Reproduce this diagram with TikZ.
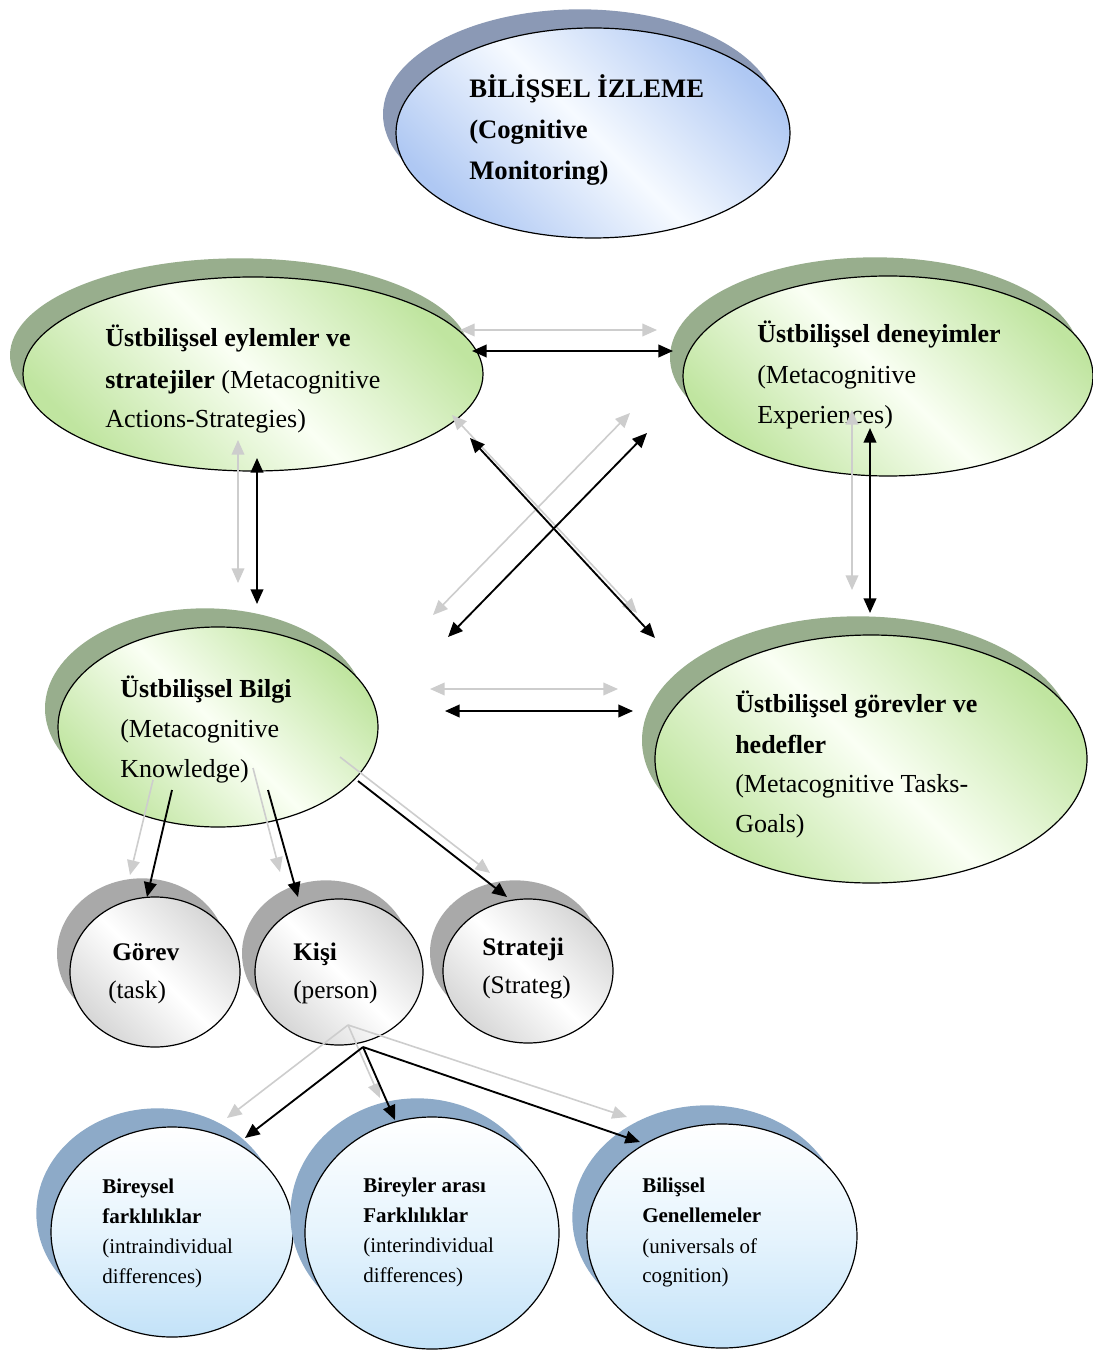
\documentclass[tikz,border=0pt]{standalone}
\usepackage{fontspec}
\setmainfont{Liberation Serif}
\usetikzlibrary{shapes.geometric,shadows,arrows.meta}

\definecolor{grnEdge}{HTML}{C0E5A0}
\definecolor{grnMid}{HTML}{FAFFF4}
\definecolor{grnShadow}{HTML}{98AE8D}
\definecolor{bluEdge}{HTML}{AFC8F3}
\definecolor{bluMid}{HTML}{F6FAFF}
\definecolor{bluShadow}{HTML}{8B99B5}
\definecolor{gryEdge}{HTML}{D6D6D6}
\definecolor{gryShadow}{HTML}{A9A9A9}
\definecolor{skyBottom}{HTML}{C3E2F8}
\definecolor{skyMid}{HTML}{E6F4FD}
\definecolor{skyShadow}{HTML}{8DAAC8}
\definecolor{ghost}{HTML}{CDCDCD}

\tikzset{
  % one unit = one pixel of the 1092 x 1351 canvas, y pointing down
  x=0.75pt, y=-0.75pt,
  oval/.style={ellipse, draw=black, line width=0.9pt, inner sep=0pt},
  radii/.style 2 args={minimum width=#1*1.5pt, minimum height=#2*1.5pt},
  monitoroval/.style={oval, left color=bluEdge, right color=bluEdge, middle color=bluMid,
    shading angle=135,
    drop shadow={shadow xshift=-9.75pt, shadow yshift=14pt, fill=bluShadow, opacity=1}},
  greenoval/.style={oval, left color=grnEdge, right color=grnEdge, middle color=grnMid,
    shading angle=135,
    drop shadow={shadow xshift=-9.75pt, shadow yshift=14pt, fill=grnShadow, opacity=1}},
  greyoval/.style={oval, left color=gryEdge, right color=gryEdge, middle color=white,
    shading angle=135,
    drop shadow={shadow xshift=-9.75pt, shadow yshift=14pt, fill=gryShadow, opacity=1}},
  skyoval/.style={oval, top color=white, bottom color=skyBottom, middle color=skyMid,
    drop shadow={shadow xshift=-11pt, shadow yshift=14pt, fill=skyShadow, opacity=1}},
  line/.style={anchor=base west, inner sep=0pt},
  toptext/.style={line, font=\fontsize{20pt}{30pt}\selectfont},
  bigtext/.style={line, font=\fontsize{19.5pt}{30pt}\selectfont},
  midtext/.style={line, font=\fontsize{19pt}{28pt}\selectfont},
  smalltext/.style={line, font=\fontsize{15.75pt}{22pt}\selectfont},
  tip/.style={>={Triangle[length=11pt,width=9.5pt]}},
  solidlink/.style={tip, draw=black, line width=1.4pt},
  ghostlink/.style={tip, draw=ghost, line width=1.2pt},
}

\begin{document}
\begin{tikzpicture}
\useasboundingbox (0,0) rectangle (1092,1351);
\fill[white] (0,0) rectangle (1092,1351);

% ---------- ovals ----------
\node[monitoroval, radii={197}{105}] (mon)   at (593,133)  {};
\node[greenoval,   radii={230}{97}]  (act)   at (253,374)  {};
\node[greenoval,   radii={205}{100}] (exp)   at (888,376)  {};
\node[greenoval,   radii={160}{100}] (kno)   at (218,727)  {};
\node[greenoval,   radii={216}{124}] (goal)  at (871,759)  {};
\node[greyoval,    radii={85}{75}]   (task)  at (155,972)  {};
\node[greyoval,    radii={84}{73}]   (pers)  at (339,972)  {};
\node[greyoval,    radii={85}{72}]   (strat) at (528,971)  {};
\node[skyoval,     radii={121}{105}] (intra) at (172,1232) {};
\node[skyoval,     radii={127}{116}] (inter) at (432,1233) {};
\node[skyoval,     radii={135}{112}] (univ)  at (722,1236) {};

% ---------- texts ----------
\node[toptext] (mon1) at (469,98)  {\bfseries BİLİŞSEL İZLEME};
\node[toptext] (mon2) at (469,139) {\bfseries (Cognitive};
\node[toptext] (mon3) at (469,180) {\bfseries Monitoring)};

\node[bigtext] (act1) at (105,347) {\bfseries Üstbilişsel eylemler ve};
\node[bigtext] (act2) at (105,388) {\textbf{stratejiler} (Metacognitive};
\node[bigtext] (act3) at (105,427) {Actions-Strategies)};

\node[bigtext] (exp1) at (757,343) {\bfseries Üstbilişsel deneyimler};
\node[bigtext] (exp2) at (757,383) {(Metacognitive};
\node[bigtext] (exp3) at (757,423) {Experiences)};

\node[bigtext] (kno1) at (120,697) {\bfseries Üstbilişsel Bilgi};
\node[bigtext] (kno2) at (120,737) {(Metacognitive};
\node[bigtext] (kno3) at (120,777) {Knowledge)};

\node[bigtext] (goal1) at (735,712) {\bfseries Üstbilişsel görevler ve};
\node[bigtext] (goal2) at (735,753) {\bfseries hedefler};
\node[bigtext] (goal3) at (735,792) {(Metacognitive Tasks-};
\node[bigtext] (goal4) at (735,832) {Goals)};

\node[midtext] (task1) at (112,960)  {\bfseries Görev};
\node[midtext] (task2) at (108,998)  {(task)};
\node[midtext] (pers1) at (293,960)  {\bfseries Kişi};
\node[midtext] (pers2) at (293,998)  {(person)};
\node[midtext] (strat1) at (482,955) {\bfseries Strateji};
\node[midtext] (strat2) at (482,993) {(Strateg)};

\node[smalltext] (intra1) at (102,1193) {\bfseries Bireysel};
\node[smalltext] (intra2) at (102,1223) {\bfseries farklılıklar};
\node[smalltext] (intra3) at (102,1253) {(intraindividual};
\node[smalltext] (intra4) at (102,1283) {differences)};

\node[smalltext] (inter1) at (363,1192) {\bfseries Bireyler arası};
\node[smalltext] (inter2) at (363,1222) {\bfseries Farklılıklar};
\node[smalltext] (inter3) at (363,1252) {(interindividual};
\node[smalltext] (inter4) at (363,1282) {differences)};

\node[smalltext] (univ1) at (642,1192) {\bfseries Bilişsel};
\node[smalltext] (univ2) at (642,1222) {\bfseries Genellemeler};
\node[smalltext] (univ3) at (642,1253) {(universals of};
\node[smalltext] (univ4) at (642,1282) {cognition)};

% ---------- connector end points ----------
% actions <-> experiences
\coordinate (ae1) at (472,351); \coordinate (ae2) at (673,351);
\coordinate (ae1g) at (460,330); \coordinate (ae2g) at (657,330);
% actions <-> tasks-goals
\coordinate (ag1) at (470,438); \coordinate (ag2) at (655,638);
\coordinate (ag1g) at (452,415); \coordinate (ag2g) at (637,613);
% experiences <-> knowledge
\coordinate (ek1) at (647,433); \coordinate (ek2) at (448,637);
\coordinate (ek1g) at (630,413); \coordinate (ek2g) at (433,615);
% knowledge <-> tasks-goals
\coordinate (kg1) at (445,711); \coordinate (kg2) at (633,711);
\coordinate (kg1g) at (430,689); \coordinate (kg2g) at (618,689);
% actions <-> knowledge
\coordinate (ak1) at (257,458); \coordinate (ak2) at (257,604);
\coordinate (ak1g) at (238,440); \coordinate (ak2g) at (238,583);
% experiences <-> tasks-goals
\coordinate (eg1) at (870,428); \coordinate (eg2) at (870,613);
\coordinate (eg1g) at (852,410); \coordinate (eg2g) at (852,590);
% knowledge -> task / person / strategy
\coordinate (kt1) at (172,790); \coordinate (kt2) at (147,897);
\coordinate (kt1g) at (153,780); \coordinate (kt2g) at (130,875);
\coordinate (kp1) at (268,790); \coordinate (kp2) at (298,897);
\coordinate (kp1g) at (253,768); \coordinate (kp2g) at (280,872);
\coordinate (ks1) at (358,781); \coordinate (ks2) at (507,897);
\coordinate (ks1g) at (340,757); \coordinate (ks2g) at (490,873);
% person -> the three kinds of differences
\coordinate (pf) at (363,1047); \coordinate (pfg) at (348,1025);
\coordinate (pi) at (245,1138); \coordinate (pig) at (227,1118);
\coordinate (pa) at (395,1120); \coordinate (pag) at (380,1098);
\coordinate (pu) at (640,1142); \coordinate (pug) at (627,1117);

% ---------- light copies of the connectors ----------
\draw[ghostlink, <->] (ae1g) -- (ae2g);
\draw[ghostlink, <->] (ag1g) -- (ag2g);
\draw[ghostlink, <->] (ek1g) -- (ek2g);
\draw[ghostlink, <->] (kg1g) -- (kg2g);
\draw[ghostlink, <->] (ak1g) -- (ak2g);
\draw[ghostlink, <->] (eg1g) -- (eg2g);
\draw[ghostlink, ->] (kt1g) -- (kt2g);
\draw[ghostlink, ->] (kp1g) -- (kp2g);
\draw[ghostlink, ->] (ks1g) -- (ks2g);
\draw[ghostlink, ->] (pfg) -- (pig);
\draw[ghostlink, ->] (pfg) -- (pag);
\draw[ghostlink, ->] (pfg) -- (pug);

% ---------- connectors ----------
\draw[solidlink, <->] (ae1) -- (ae2);
\draw[solidlink, <->] (ag1) -- (ag2);
\draw[solidlink, <->] (ek1) -- (ek2);
\draw[solidlink, <->] (kg1) -- (kg2);
\draw[solidlink, <->] (ak1) -- (ak2);
\draw[solidlink, <->] (eg1) -- (eg2);
\draw[solidlink, ->] (kt1) -- (kt2);
\draw[solidlink, ->] (kp1) -- (kp2);
\draw[solidlink, ->] (ks1) -- (ks2);
\draw[solidlink, ->] (pf) -- (pi);
\draw[solidlink, ->] (pf) -- (pa);
\draw[solidlink, ->] (pf) -- (pu);
\end{tikzpicture}
\end{document}
